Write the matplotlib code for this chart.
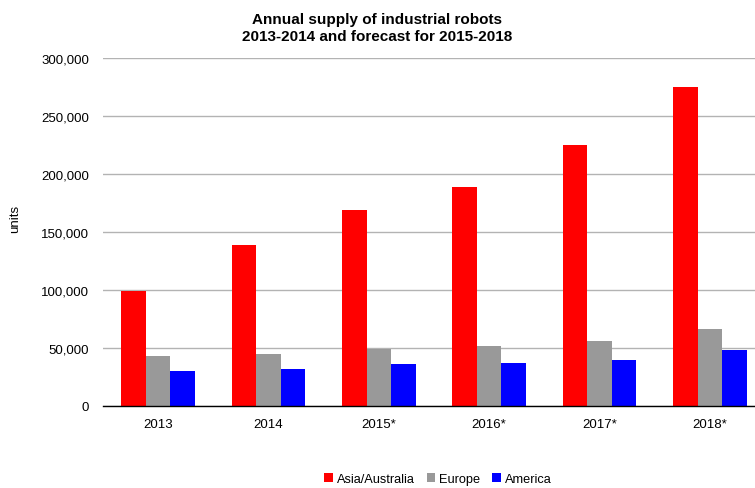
import numpy as np
import matplotlib.pyplot as plt
from matplotlib.ticker import FuncFormatter

plt.rcParams['font.family'] = ['Liberation Sans', 'DejaVu Sans']

years = ['2013', '2014', '2015*', '2016*', '2017*', '2018*']
asia = [99000, 139000, 169000, 189000, 225000, 275000]
europe = [43000, 45000, 49000, 52000, 56000, 66000]
america = [30000, 32000, 36000, 37000, 40000, 48000]

names = ['Asia/Australia', 'Europe', 'America']
colors = ['#ff0000', '#999999', '#0000ff']

fig = plt.figure(figsize=(7.55, 4.89), dpi=100)
ax = fig.add_axes([0.1364, 0.1677, 0.8636, 0.7116])

x = np.arange(len(years))
w = 0.222
for i, (vals, name, c) in enumerate(zip([asia, europe, america], names, colors)):
    ax.bar(x + (i - 1) * w, vals, w, color=c, label=name, zorder=3)

ax.set_xlim(-0.5, 5.41)
ax.set_ylim(0, 300000)
ax.set_yticks(np.arange(0, 300001, 50000))
ax.yaxis.set_major_formatter(FuncFormatter(lambda v, p: '{:,.0f}'.format(v)))
ax.set_xticks(x)
ax.set_xticklabels(years)
ax.tick_params(axis='both', length=0, labelsize=9.5, colors='#000000')
ax.tick_params(axis='x', pad=9)
ax.tick_params(axis='y', pad=10)
ax.grid(axis='y', color='#b3b3b3', linewidth=1, zorder=0)
for s in ['top', 'right', 'left']:
    ax.spines[s].set_visible(False)
ax.spines['bottom'].set_color('black')
ax.spines['bottom'].set_linewidth(1)
ax.spines['bottom'].set_zorder(4)

fig.text(0.02, 0.552, 'units', rotation=90, ha='center', va='center', fontsize=9.5)
fig.text(0.5, 0.973, 'Annual supply of industrial robots\n2013-2014 and forecast for 2015-2018',
         ha='center', va='top', fontsize=11, fontweight='bold', linespacing=1.25)

fig.legend(loc='center', bbox_to_anchor=(0.58, 0.018), ncol=3, frameon=False,
           fontsize=9.2, handlelength=0.7, handleheight=0.7, handletextpad=0.3,
           columnspacing=0.9)

fig.savefig('out.png', dpi=100)
